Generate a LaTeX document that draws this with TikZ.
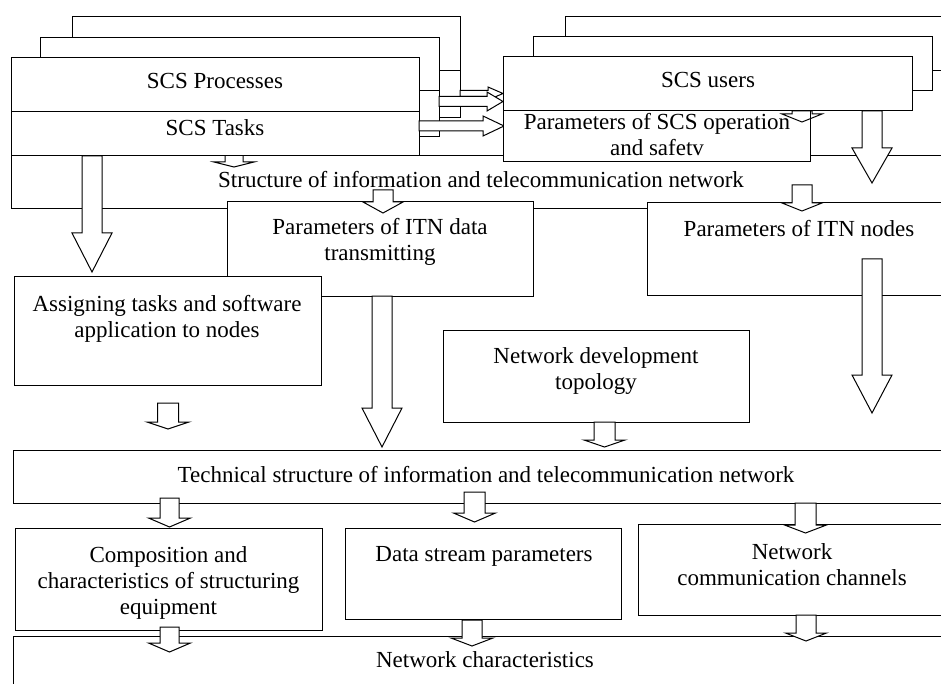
\documentclass[tikz,border=0pt]{standalone}
\usepackage{fontspec}
\setmainfont{Liberation Serif}
\tikzset{
  bx/.style={draw=black, fill=white, line width=1pt, inner sep=0pt, outer sep=0pt},
  blk/.style={draw=black, fill=white, line width=1pt, line join=miter},
  blkopen/.style={draw=black, line width=1pt, line join=miter},
  lbl/.style={font=\fontsize{23}{26}\selectfont, inner sep=0pt, outer sep=0pt, align=center},
  divl/.style={draw=black, line width=1pt}
}
% box: name, x1, y1, x2, y2 (pixel coordinates, y downwards)
\newcommand{\bbox}[5]{\node[bx, minimum width={(#4-#2)*1pt}, minimum height={(#5-#3)*1pt}] (#1) at ({(#2+#4)/2},{(#3+#5)/2}) {};}
% vertical block arrow: xc, top, base, tip, half shaft, half head
\newcommand{\varrow}[7][blk]{\draw[#1] ({#2-#6},#3) -- ({#2+#6},#3) -- ({#2+#6},#4) -- ({#2+#7},#4) -- (#2,#5) -- ({#2-#7},#4) -- ({#2-#6},#4) -- cycle;}
% horizontal block arrow: yc, left, base, tip, half shaft, half head
\newcommand{\harrow}[6]{\draw[blk] (#2,{#1-#5}) -- (#3,{#1-#5}) -- (#3,{#1-#6}) -- (#4,#1) -- (#3,{#1+#6}) -- (#3,{#1+#5}) -- (#2,{#1+#5}) -- cycle;}
\begin{document}
\begin{tikzpicture}[x=1pt, y=-1pt]
\useasboundingbox (0,0) rectangle (941,684);
\clip (0,0) rectangle (941,684);

% Structure of ITN
\bbox{st}{11}{156}{960}{209}
\varrow{92}{156}{233}{272}{10}{20}
\varrow{234}{150}{162}{167}{9}{20}

% parameter boxes
\bbox{pd}{227}{202}{533}{296}
\bbox{pn}{647}{203}{960}{295}
\bbox{as}{14}{277}{321}{385}
\varrow{383}{190}{202}{213}{10}{20}
\varrow{802}{185}{203}{211}{10}{20}
\varrow{872}{111}{148}{183}{10}{20}

% left stack
\bbox{lb}{72}{17}{460}{118}
\draw[divl] (lb.west |- 0,71) -- (lb.east |- 0,71);
\bbox{lm}{40}{38}{439}{137}
\draw[divl] (lm.west |- 0,91) -- (lm.east |- 0,91);
\bbox{lf}{11}{58}{419}{156}
\draw[divl] (lf.west |- 0,112) -- (lf.east |- 0,112);

\harrow{93.5}{460}{488}{503}{3}{6.5}
\harrow{101.5}{439}{487}{503}{5}{9.5}
\harrow{126}{419}{483}{504}{5}{10}

% right stack
\bbox{rb}{565}{17}{960}{71}
\bbox{rm}{533}{37}{932}{91}
\bbox{rf}{503}{57}{912}{111}
\bbox{ps}{503}{111}{810}{162}
\varrow[blkopen]{802}{111}{114}{122}{10}{20}

% lower part
\bbox{nd}{443}{330}{749}{422}
\varrow{382}{296}{408}{447}{10}{20}
\varrow{168}{403}{422}{429}{10.5}{21}
\varrow{872}{259}{375}{413}{10}{20}

\bbox{te}{13}{450}{960}{503}
\bbox{co}{15}{528}{322}{630}
\bbox{ds}{345}{528}{621}{619}
\bbox{ch}{638}{524}{960}{615}
\bbox{nc}{13}{636}{960}{700}

\varrow{604.5}{422}{440}{447}{10.5}{20.5}
\varrow{169.5}{498}{518}{527}{9.5}{21}
\varrow{474.5}{492}{513}{522}{10.5}{21}
\varrow{805.5}{503}{525}{533}{10.5}{21}
\varrow{169.5}{627}{643}{652}{9.5}{21}
\varrow{472}{620}{638}{646}{10}{21}
\varrow{806}{615}{633}{641}{10}{20.5}

% texts
\node[lbl] (tproc) at (215,83.8) {\strut SCS Processes};
\node[lbl] (ttask) at (215,130.8) {\strut SCS Tasks};
\node[lbl] (tusers) at (708,82.8) {\strut SCS users};
\node[lbl] (tps) at (657,137.8) {\strut Parameters of SCS operation\\\strut and safetv};
\node[lbl] (tst) at (481,182.3) {\strut Structure of information and telecommunication network};
\node[lbl] (tpd) at (380,242.8) {\strut Parameters of ITN data\\\strut transmitting};
\node[lbl] (tpn) at (799,231.8) {\strut Parameters of ITN nodes};
\node[lbl] (tas) at (167,318.8) {\strut Assigning tasks and software\\\strut application to nodes};
\node[lbl] (tnd) at (596,370.8) {\strut Network development\\\strut topology};
\node[lbl] (tte) at (486,476.8) {\strut Technical structure of information and telecommunication network};
\node[lbl] (tco) at (168.5,582.8) {\strut Composition and\\\strut characteristics of structuring\\\strut equipment};
\node[lbl] (tds) at (484,555.8) {\strut Data stream parameters};
\node[lbl] (tch) at (792,566.8) {\strut Network\\\strut communication channels};
\node[lbl] (tnc) at (485,661.8) {\strut Network characteristics};
\end{tikzpicture}
\end{document}
